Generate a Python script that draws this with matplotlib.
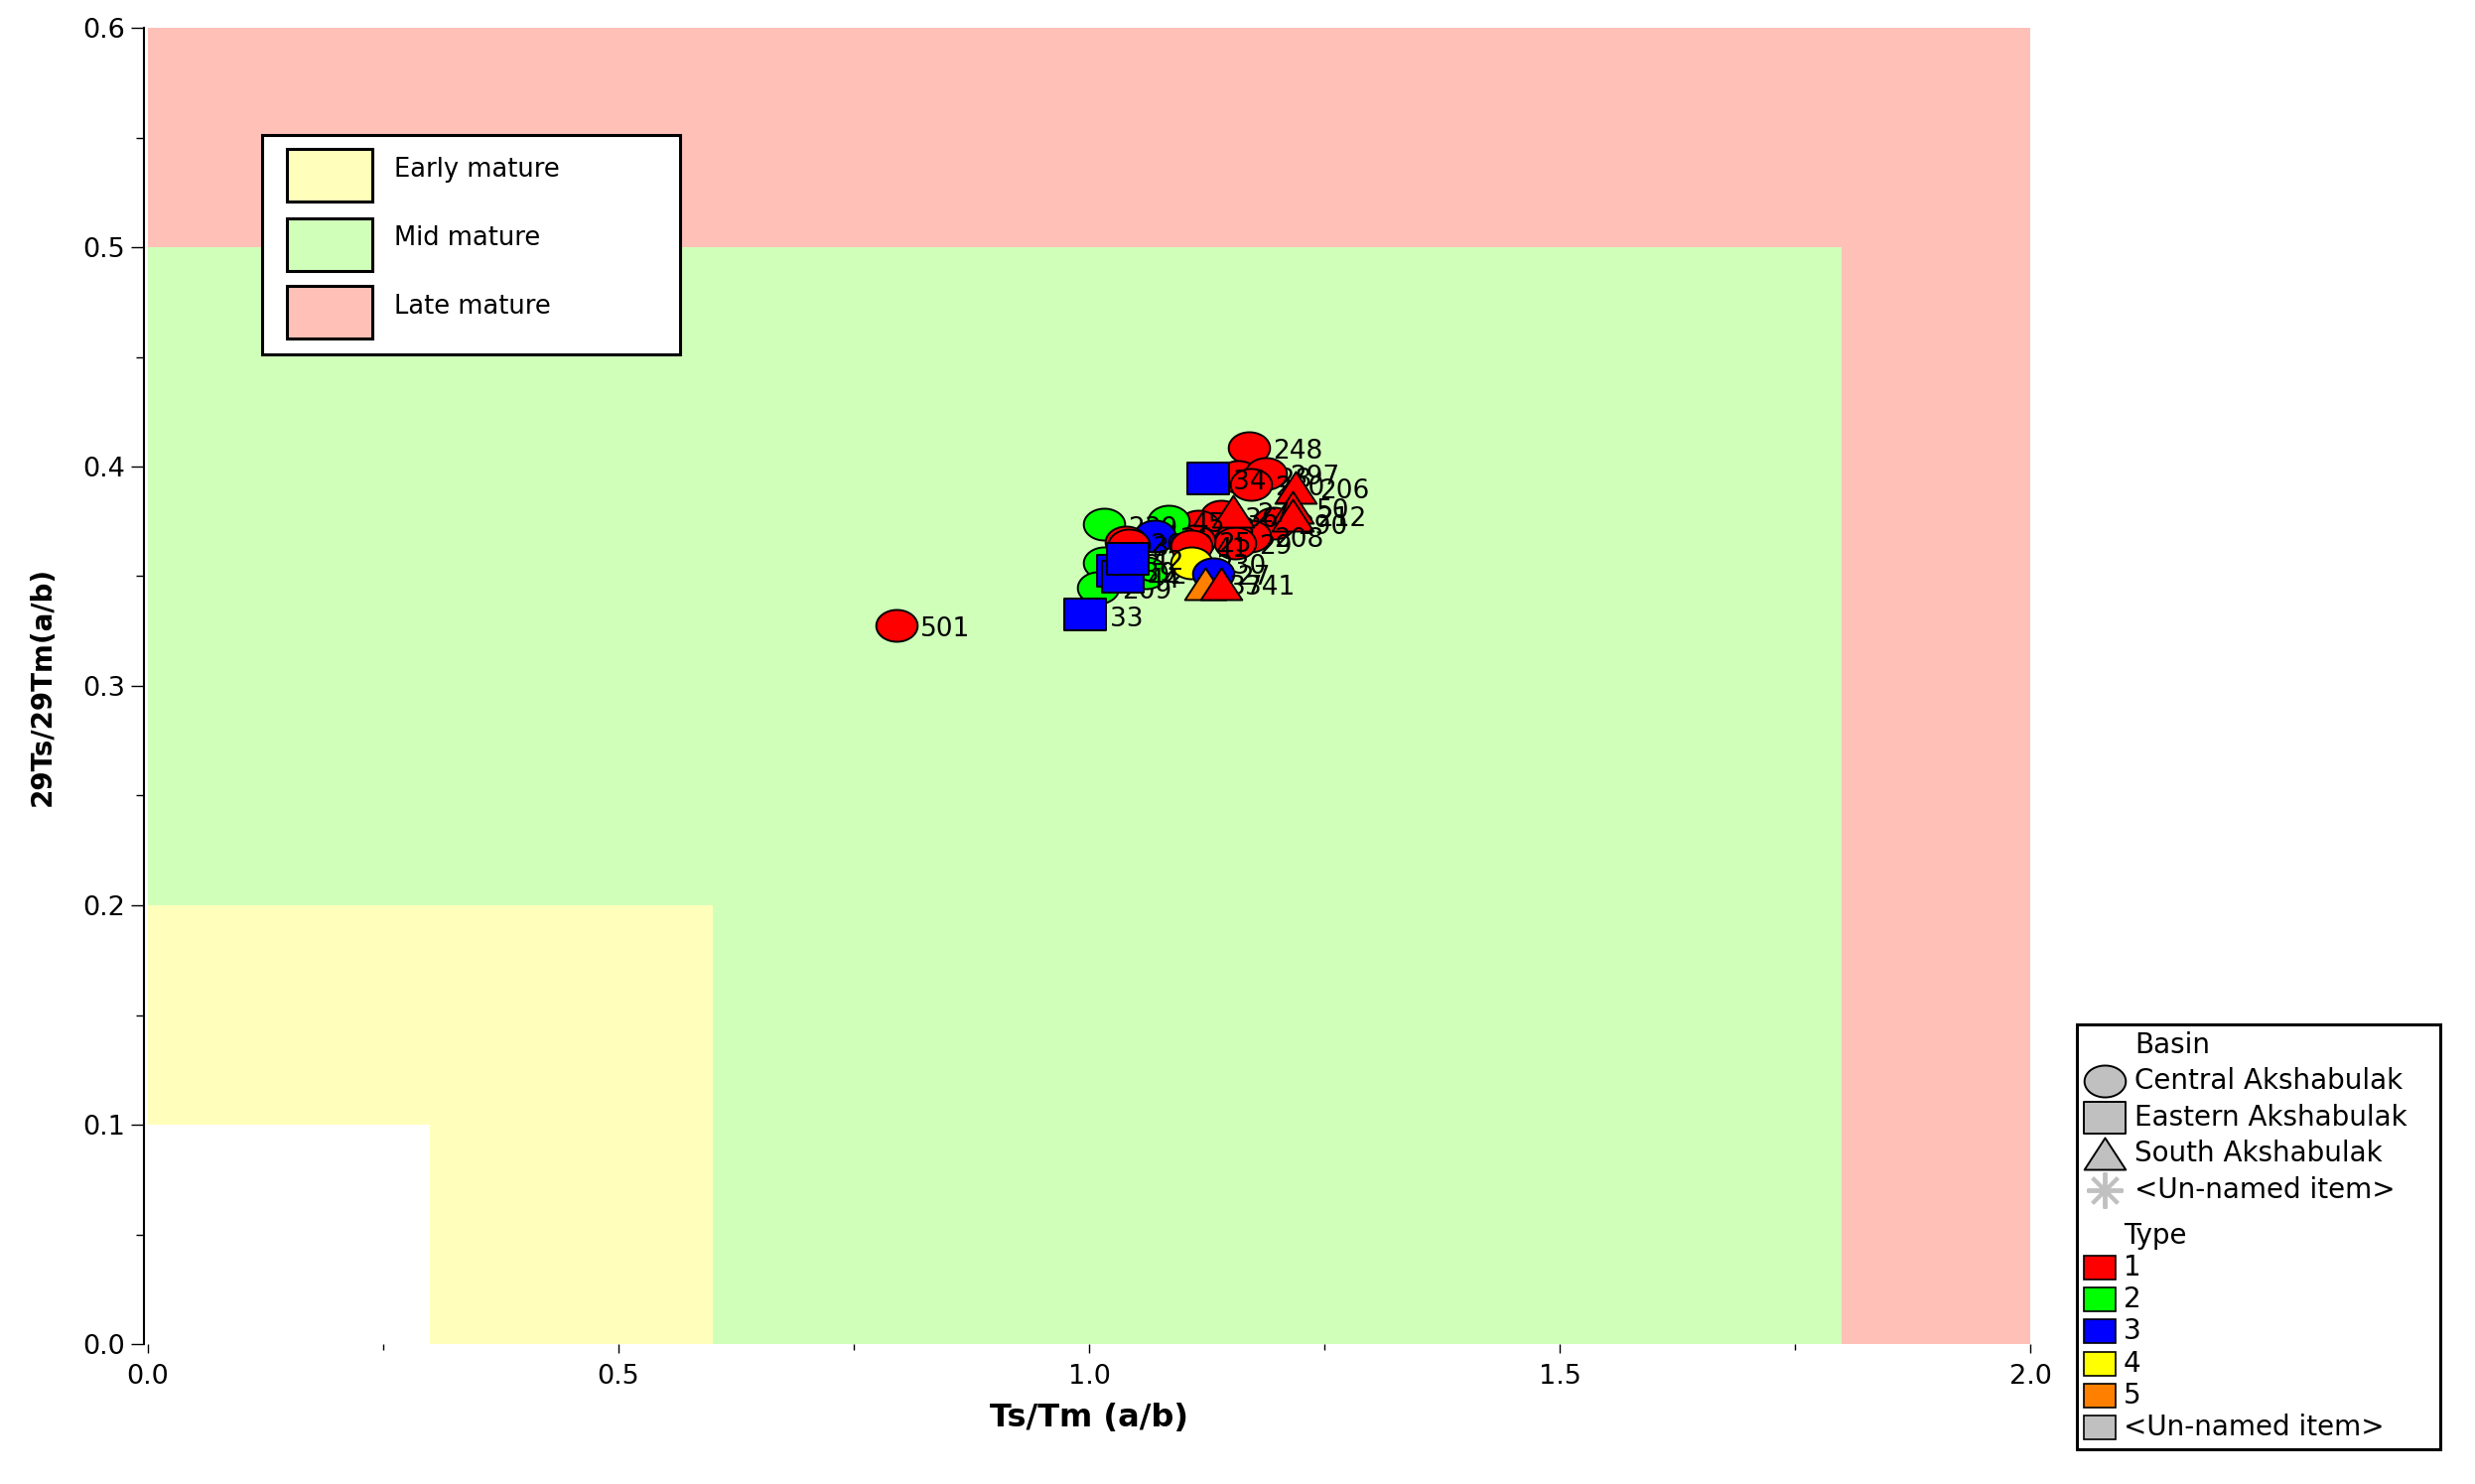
import numpy as np
import matplotlib
matplotlib.use('Agg')
import matplotlib.pyplot as plt
from matplotlib.path import Path
from matplotlib.patches import Rectangle
from matplotlib.ticker import MultipleLocator, FormatStrFormatter

# Strefy dojrzałości (prostokąty od (0,0) do (xmax, ymax))
zone_names = ['Late mature', 'Mid mature', 'Early mature', '']
zone_xmax = [2.0, 1.8, 0.6, 0.3]
zone_ymax = [0.6, 0.5, 0.2, 0.1]

# Próbki: Ts/Tm, 29Ts/29Tm, basen, typ, etykieta
sample_x = [1.170, 1.158, 1.188, 1.172, 1.127, 1.219, 1.196, 1.216, 1.216, 1.171,
            1.140, 1.116, 1.155, 1.112, 1.153, 1.084, 1.016, 1.070, 1.016, 1.009,
            1.060, 1.039, 1.042, 1.109, 1.109, 1.132, 1.123, 1.140, 1.031, 1.036,
            1.041, 0.996, 0.795]
sample_y = [0.4086, 0.3955, 0.3970, 0.3920, 0.3946, 0.3905, 0.3744, 0.3815, 0.3780, 0.3683,
            0.3774, 0.3729, 0.3653, 0.3660, 0.3796, 0.3751, 0.3736, 0.3683, 0.3562, 0.3450,
            0.3517, 0.3656, 0.3643, 0.3638, 0.3562, 0.3511, 0.3466, 0.3466, 0.3525, 0.3500,
            0.3580, 0.3324, 0.3276]
sample_basin = ['C', 'C', 'C', 'C', 'E', 'S', 'C', 'S', 'S', 'C',
                'C', 'C', 'C', 'C', 'S', 'C', 'C', 'C', 'C', 'C',
                'C', 'C', 'C', 'C', 'C', 'C', 'S', 'S', 'E', 'E',
                'E', 'E', 'C']
sample_type = [1, 1, 1, 1, 3, 1, 1, 1, 1, 1,
               1, 1, 1, 1, 1, 2, 2, 3, 2, 2,
               2, 1, 1, 1, 4, 3, 5, 1, 3, 3,
               3, 3, 1]
sample_label = ['248', '228', '297', '280', '34', '206', '290', '50', '212', '208',
                '36', '43', '29', '25', '27', '45', '239', '26', '22', '209',
                '24', '261', '31', '41', '230', '27', '37', '341', '39', '44',
                '42', '33', '501']

basin_names = ['Central Akshabulak', 'Eastern Akshabulak', 'South Akshabulak', '<Un-named item>']
type_names = ['1', '2', '3', '4', '5', '<Un-named item>']

zone_colors = ['#FFC0B8', '#D0FFBA', '#FFFFBB', 'white']
type_colors = {1: '#FF0000', 2: '#00FF00', 3: '#0000FF', 4: '#FFFF00', 5: '#FF8000'}
legend_type_colors = ['#FF0000', '#00FF00', '#0000FF', '#FFFF00', '#FF8000', '#C0C0C0']

# markery rozciągnięte w poziomie jak na oryginale
t = np.linspace(0, 2 * np.pi, 65)
ELL = Path(np.column_stack([1.3 * np.cos(t), np.sin(t)]))
SQR = Path([(-1.3, -1), (1.3, -1), (1.3, 1), (-1.3, 1), (-1.3, -1)], closed=True)
TRI = Path([(-1.3, -1), (1.3, -1), (0, 1), (-1.3, -1)], closed=True)
basin_marker = {'C': ELL, 'E': SQR, 'S': TRI}

W, H = 2493, 1495
fig = plt.figure(figsize=(W / 100, H / 100), dpi=100)
ax = fig.add_axes([149 / W, 1 - 1354 / H, (2045 - 149) / W, (1354 - 28) / H])

for xm, ym, col in zip(zone_xmax, zone_ymax, zone_colors):
    ax.add_patch(Rectangle((0, 0), xm, ym, facecolor=col, edgecolor='none', zorder=0))

for i in range(len(sample_x)):
    ax.plot(sample_x[i], sample_y[i], linestyle='none', marker=basin_marker[sample_basin[i]],
            ms=30, mfc=type_colors[sample_type[i]], mec='black', mew=1.4, zorder=3 + 2 * i)
    ax.annotate(sample_label[i], (sample_x[i], sample_y[i]), xytext=(17.5, -3),
                textcoords='offset points', ha='left', va='center', fontsize=19,
                zorder=4 + 2 * i)

ax.set_xlim(0, 2.0)
ax.set_ylim(0, 0.6)
for s in ['top', 'right', 'bottom']:
    ax.spines[s].set_visible(False)
ax.spines['left'].set_linewidth(1.5)
ax.spines['left'].set_position(('outward', 3))

ax.xaxis.set_major_locator(MultipleLocator(0.5))
ax.xaxis.set_minor_locator(MultipleLocator(0.25))
ax.yaxis.set_major_locator(MultipleLocator(0.1))
ax.yaxis.set_minor_locator(MultipleLocator(0.05))
ax.xaxis.set_major_formatter(FormatStrFormatter('%.1f'))
ax.yaxis.set_major_formatter(FormatStrFormatter('%.1f'))
ax.tick_params(axis='y', which='major', length=9.5, width=1, pad=4, labelsize=19.5)
ax.tick_params(axis='y', which='minor', length=6, width=1)
ax.tick_params(axis='x', which='major', length=6.5, width=1, pad=8, labelsize=19.5)
ax.tick_params(axis='x', which='minor', length=4.5, width=1)

ax.set_xlabel('Ts/Tm (a/b)', fontsize=23, fontweight='bold')
ax.xaxis.set_label_coords(0.5, -0.056)
ax.xaxis.label.set_va('center')
ax.set_ylabel('29Ts/29Tm(a/b)', fontsize=20, fontweight='bold')
ax.yaxis.set_label_coords(-0.056, 0.5)
ax.yaxis.label.set_va('center')


def px_axes(x0, y0, x1, y1):
    a = fig.add_axes([x0 / W, 1 - y1 / H, (x1 - x0) / W, (y1 - y0) / H])
    a.set_xlim(x0, x1)
    a.set_ylim(y1, y0)
    a.axis('off')
    a.add_patch(Rectangle((x0, y0), x1 - x0, y1 - y0, facecolor='white',
                          edgecolor='black', lw=2.2, clip_on=False))
    return a


# legenda stref
lg = px_axes(264, 136, 685, 357)
for name, col, cy in zip(['Early mature', 'Mid mature', 'Late mature'],
                         zone_colors[2::-1], [176.5, 246, 314.5]):
    lg.add_patch(Rectangle((289, cy - 26.5), 86, 53, facecolor=col,
                           edgecolor='black', lw=2.2, clip_on=False))
    lg.text(397, cy - 6, name, fontsize=18.5, va='center', ha='left')

# legenda basen / typ
lg2 = px_axes(2092, 1032, 2458, 1460)
lg2.text(2150, 1053, 'Basin', fontsize=20, va='center')
for name, mk, cy in zip(basin_names, [ELL, SQR, TRI, None], [1089, 1126, 1162, 1199]):
    if mk is None:
        lg2.plot(2120, cy, marker=(8, 2, 0), ms=26, mec='#C0C0C0', mew=2.8,
                 linestyle='none', clip_on=False)
    else:
        lg2.plot(2120, cy, marker=mk, ms=30, mfc='#C0C0C0', mec='black', mew=1.4,
                 linestyle='none', clip_on=False)
    lg2.text(2150, cy, name, fontsize=20, va='center')
lg2.text(2139, 1245, 'Type', fontsize=20, va='center')
for k, (name, col) in enumerate(zip(type_names, legend_type_colors)):
    cy = 1277 + 32.2 * k
    lg2.add_patch(Rectangle((2099, cy - 12), 32, 24, facecolor=col, edgecolor='black',
                            lw=1.2, clip_on=False))
    lg2.text(2139, cy, name, fontsize=20, va='center')

fig.savefig('out.png', dpi=100)
